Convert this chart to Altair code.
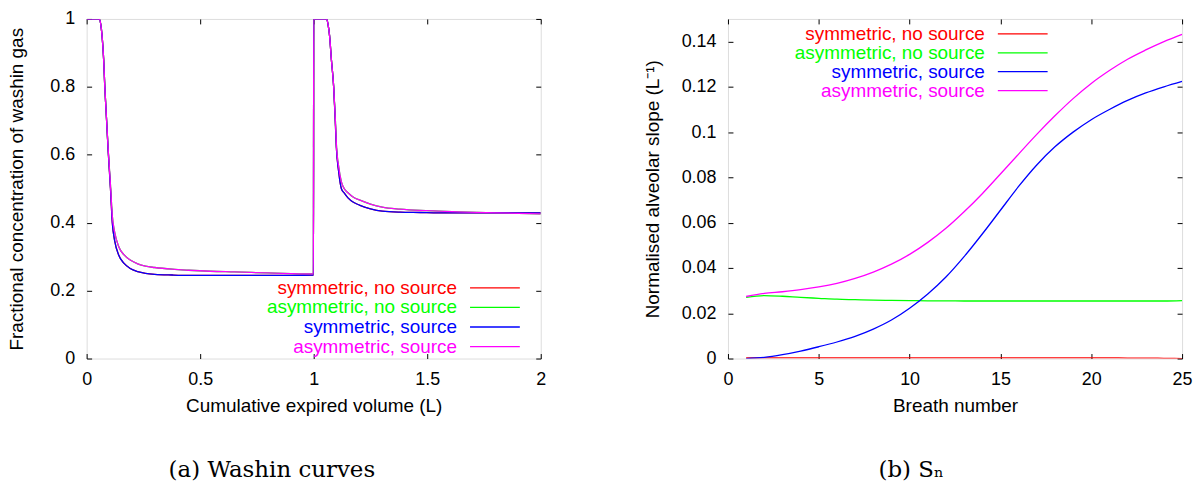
import altair as alt
import pandas as pd

SERIES = ["symmetric, no source", "asymmetric, no source",
          "symmetric, source", "asymmetric, source"]
COLORS = ["#ff0000", "#00ff00", "#0000ff", "#ff00ff"]

# ---- panel (a): washin concentration over two breaths ----
volume = [0.0, 0.055, 0.062, 0.068, 0.075, 0.080, 0.088, 0.095, 0.105, 0.113,
          0.124, 0.141, 0.165, 0.192, 0.225, 0.259, 0.300, 0.377, 0.450, 0.545,
          0.650, 0.797, 0.900, 0.999,
          1.000, 1.056, 1.063, 1.070, 1.078, 1.088, 1.095, 1.100, 1.110, 1.122,
          1.135, 1.151, 1.175, 1.201, 1.250, 1.302, 1.380, 1.470, 1.550, 1.638,
          1.800, 2.000]

washin_sym_nosrc = [1.0, 1.0, 0.985, 0.95, 0.88, 0.80, 0.70, 0.61, 0.50, 0.40,
                    0.345, 0.305, 0.28, 0.265, 0.256, 0.251, 0.248, 0.246, 0.245, 0.245,
                    0.245, 0.245, 0.245, 0.246,
                    1.0, 1.0, 0.985, 0.95, 0.88, 0.80, 0.70, 0.62, 0.55, 0.50,
                    0.487, 0.473, 0.46, 0.452, 0.441, 0.434, 0.431, 0.430, 0.429, 0.429,
                    0.429, 0.429]
washin_asym_nosrc = [1.0, 1.0, 0.985, 0.95, 0.88, 0.80, 0.70, 0.615, 0.51, 0.42,
                     0.37, 0.33, 0.305, 0.29, 0.279, 0.272, 0.268, 0.263, 0.26, 0.257,
                     0.255, 0.252, 0.25, 0.249,
                     1.0, 1.0, 0.985, 0.95, 0.88, 0.80, 0.71, 0.63, 0.565, 0.52,
                     0.50, 0.488, 0.475, 0.467, 0.455, 0.446, 0.44, 0.436, 0.434, 0.432,
                     0.429, 0.426]
washin_sym_src = [1.0, 1.0, 0.985, 0.95, 0.88, 0.80, 0.70, 0.61, 0.50, 0.40,
                  0.345, 0.305, 0.28, 0.265, 0.256, 0.251, 0.248, 0.246, 0.245, 0.245,
                  0.245, 0.245, 0.245, 0.246,
                  1.0, 1.0, 0.985, 0.95, 0.88, 0.80, 0.70, 0.62, 0.55, 0.50,
                  0.487, 0.473, 0.46, 0.452, 0.441, 0.434, 0.431, 0.430, 0.429, 0.429,
                  0.429, 0.429]
washin_asym_src = [1.0, 1.0, 0.985, 0.95, 0.88, 0.80, 0.70, 0.615, 0.51, 0.42,
                   0.37, 0.33, 0.305, 0.29, 0.279, 0.272, 0.268, 0.263, 0.26, 0.257,
                   0.255, 0.252, 0.25, 0.249,
                   1.0, 1.0, 0.985, 0.95, 0.88, 0.80, 0.71, 0.63, 0.565, 0.52,
                   0.50, 0.488, 0.475, 0.467, 0.455, 0.446, 0.44, 0.436, 0.434, 0.432,
                   0.429, 0.426]

# ---- panel (b): normalised alveolar slope per breath ----
breath = list(range(1, 26))
slope_sym_nosrc = [0.0003, 0.0003, 0.0003, 0.0003, 0.0003, 0.0003, 0.0003, 0.0003,
                   0.0003, 0.0003, 0.0003, 0.0003, 0.0003, 0.0003, 0.0003, 0.0003,
                   0.0003, 0.0003, 0.0003, 0.0003, 0.0003, 0.0002, 0.0002, 0.0001, 0.0]
slope_asym_nosrc = [0.0270, 0.0278, 0.0275, 0.0270, 0.0266, 0.0262, 0.0260, 0.0258,
                    0.0257, 0.0256, 0.0255, 0.0255, 0.0254, 0.0254, 0.0254, 0.0254,
                    0.0254, 0.0254, 0.0254, 0.0254, 0.0254, 0.0254, 0.0254, 0.0254, 0.0256]
slope_sym_src = [0.0, 0.0005, 0.0017, 0.0033, 0.0052, 0.0073, 0.0098, 0.0130,
                 0.0170, 0.0222, 0.0285, 0.0360, 0.0450, 0.0550, 0.0655, 0.0760,
                 0.0855, 0.0935, 0.1000, 0.1055, 0.1100, 0.1140, 0.1173, 0.1200, 0.1224]
slope_asym_src = [0.0274, 0.0288, 0.0295, 0.0304, 0.0316, 0.0332, 0.0354, 0.0382,
                  0.0417, 0.0460, 0.0513, 0.0575, 0.0648, 0.0728, 0.0815, 0.0903,
                  0.0990, 0.1072, 0.1148, 0.1215, 0.1272, 0.1322, 0.1363, 0.1400, 0.1432]

washin_x_ticks = [0, 0.5, 1, 1.5, 2]
washin_y_ticks = [0, 0.2, 0.4, 0.6, 0.8, 1]
slope_x_ticks = [0, 5, 10, 15, 20, 25]
slope_y_ticks = [0, 0.02, 0.04, 0.06, 0.08, 0.1, 0.12, 0.14]


def long_table(xs, curves):
    rows = []
    for name, ys in zip(SERIES, curves):
        for i, (x, y) in enumerate(zip(xs, ys)):
            rows.append({"x": x, "y": y, "series": name, "idx": i})
    return pd.DataFrame(rows)


washin_df = long_table(volume, [washin_sym_nosrc, washin_asym_nosrc,
                                washin_sym_src, washin_asym_src])
slope_df = long_table(breath, [slope_sym_nosrc, slope_asym_nosrc,
                               slope_sym_src, slope_asym_src])
key_df = pd.DataFrame({"series": SERIES})

FONT = "Liberation Sans"
TICK = 5
COLOR_SCALE = alt.Scale(domain=SERIES, range=COLORS)


def axis(orient, ticks, title=None, fmt=None, labels=True, title_x=None):
    kw = dict(orient=orient, values=ticks, domain=False, grid=False,
              ticks=True, tickSize=TICK, tickColor="black", tickWidth=1,
              offset=-TICK, labels=labels, labelFont=FONT, labelFontSize=18,
              labelColor="black", labelPadding=12, labelFlush=False,
              titleFont=FONT, titleFontSize=19, titleFontWeight="normal",
              titleColor="black", titlePadding=8)
    kw["title"] = title if title is not None else ""
    if fmt is not None:
        kw["format"] = fmt
    if title_x is not None:
        kw["titleX"] = title_x
    return alt.Axis(**kw)


def key_layers(rows, label_right, sample_start, sample_end):
    """Gnuplot-style key: coloured label, right-aligned, followed by a line sample."""
    row_scale = alt.Scale(type="point", domain=SERIES, range=rows, padding=0)
    labels = alt.Chart(key_df).mark_text(
        align="right", baseline="middle", font=FONT, fontSize=19
    ).encode(
        y=alt.Y("series:N", scale=row_scale, axis=None),
        x=alt.value(label_right),
        text="series:N",
        color=alt.Color("series:N", scale=COLOR_SCALE, legend=None),
    )
    samples = alt.Chart(key_df).mark_rule(strokeWidth=1.3).encode(
        y=alt.Y("series:N", scale=row_scale, axis=None),
        x=alt.value(sample_start),
        x2=alt.value(sample_end),
        color=alt.Color("series:N", scale=COLOR_SCALE, legend=None),
    )
    return [labels, samples]


def panel(df, xdom, ydom, xticks, yticks, xtitle, ytitle, xfmt, yfmt,
          key_rows, key_x, caption, caption_dx, ytitle_x):
    xs = alt.Scale(domain=xdom, nice=False, zero=False)
    ys = alt.Scale(domain=ydom, nice=False, zero=False)
    lines = alt.Chart(df).mark_line(strokeWidth=1.3, interpolate="monotone", clip=True).encode(
        x=alt.X("x:Q", scale=xs, axis=axis("bottom", xticks, xtitle, xfmt)),
        y=alt.Y("y:Q", scale=ys, axis=axis("left", yticks, ytitle, yfmt, title_x=ytitle_x)),
        color=alt.Color("series:N", scale=COLOR_SCALE, legend=None),
        order="idx:Q",
    )
    mirror = alt.Chart(df).mark_point(opacity=0).encode(
        x=alt.X("x:Q", scale=xs, axis=axis("top", xticks, labels=False)),
        y=alt.Y("y:Q", scale=ys, axis=axis("right", yticks, labels=False)),
    )
    return alt.layer(lines, mirror, *key_layers(key_rows, *key_x)).resolve_scale(
        y="independent"
    ).resolve_axis(x="independent", y="independent").properties(
        width=456, height=341,
        title=alt.TitleParams(caption, orient="bottom", font="DejaVu Serif", fontSize=23,
                              fontWeight="normal", color="black", offset=44,
                              anchor="middle", dx=caption_dx),
    )


left = panel(washin_df, [0, 2], [0, 1], washin_x_ticks, washin_y_ticks,
             "Cumulative expired volume (L)", "Fractional concentration of washin gas",
             ".1~f", ".1~f", [270, 329], (372, 385, 435),
             "(a) Washin curves", -42, -65)
right = panel(slope_df, [0, 25], [0, 0.15], slope_x_ticks, slope_y_ticks,
              "Breath number", "Normalised alveolar slope (L\u207b\u00b9)",
              "d", ".2~f", [15, 72], (258, 271, 321),
              "(b) S\u2099", -44, -71)

chart = alt.hconcat(left, right, spacing=96).resolve_scale(
    color="independent"
).properties(
    padding={"left": 7, "top": 8, "right": 5, "bottom": 5}
).configure_view(stroke="black", strokeWidth=1).configure(background="white")

chart.save("out.html", embed_options={"renderer": "svg", "actions": False})
